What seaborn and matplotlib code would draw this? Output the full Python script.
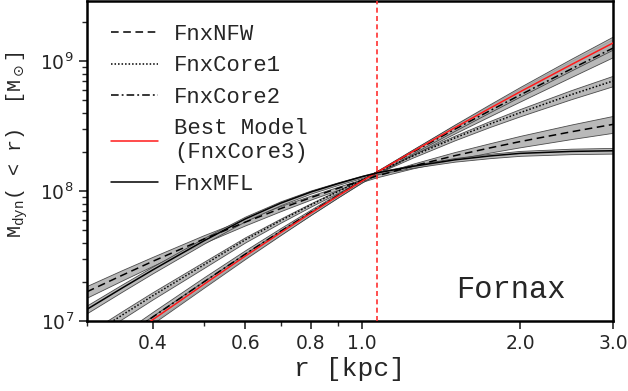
import numpy as np
import pandas as pd
import matplotlib
matplotlib.use("Agg")
import matplotlib.pyplot as plt
from matplotlib.ticker import FixedLocator, FixedFormatter, NullFormatter, LogLocator
import seaborn as sns

# Enclosed dynamical mass profiles of Fornax for each model (log10 M / Msun)
r_kpc = [0.30, 0.35, 0.40, 0.50, 0.60, 0.70, 0.80, 0.90, 1.00, 1.07, 1.25, 1.50, 1.75, 2.00, 2.50, 3.00]

logm_nfw   = [7.225, 7.352, 7.459, 7.630, 7.761, 7.865, 7.950, 8.021, 8.081, 8.117, 8.193, 8.272, 8.332, 8.381, 8.456, 8.513]
logm_core1 = [6.872, 7.046, 7.194, 7.431, 7.625, 7.772, 7.894, 7.996, 8.085, 8.146, 8.270, 8.408, 8.516, 8.604, 8.742, 8.847]
logm_core2 = [6.670, 6.865, 7.030, 7.300, 7.515, 7.690, 7.838, 7.966, 8.078, 8.146, 8.300, 8.475, 8.618, 8.740, 8.940, 9.100]
logm_core3 = [6.648, 6.845, 7.010, 7.281, 7.500, 7.679, 7.831, 7.962, 8.077, 8.146, 8.305, 8.487, 8.637, 8.765, 8.973, 9.139]
logm_mfl   = [7.090, 7.254, 7.393, 7.616, 7.786, 7.906, 7.993, 8.057, 8.110, 8.140, 8.190, 8.240, 8.270, 8.290, 8.305, 8.310]

# 1-sigma half widths of the uncertainty bands (dex)
err_nfw   = [0.045, 0.040, 0.035, 0.030, 0.025, 0.020, 0.015, 0.012, 0.010, 0.010, 0.018, 0.028, 0.036, 0.044, 0.056, 0.065]
err_core1 = [0.032, 0.030, 0.028, 0.024, 0.020, 0.016, 0.013, 0.010, 0.008, 0.008, 0.012, 0.018, 0.023, 0.028, 0.035, 0.040]
err_core2 = [0.045, 0.042, 0.040, 0.035, 0.030, 0.025, 0.020, 0.015, 0.012, 0.012, 0.020, 0.032, 0.042, 0.050, 0.062, 0.070]
err_core3 = [0.035, 0.033, 0.030, 0.026, 0.022, 0.018, 0.014, 0.011, 0.009, 0.009, 0.015, 0.024, 0.031, 0.037, 0.045, 0.050]
err_mfl   = [0.030, 0.028, 0.026, 0.022, 0.018, 0.015, 0.012, 0.010, 0.009, 0.009, 0.011, 0.014, 0.017, 0.019, 0.021, 0.022]

model_names = ["FnxNFW", "FnxCore1", "FnxCore2", "Best Model\n(FnxCore3)", "FnxMFL"]
r_half = 1.07          # half-light radius marker [kpc]
x_ticks = [0.4, 0.6, 0.8, 1.0, 2.0, 3.0]
x_ticklabels = ["0.4", "0.6", "0.8", "1.0", "2.0", "3.0"]

sns.set_style("ticks")
plt.rcParams["font.family"] = ["DejaVu Sans"]
MONO = "Liberation Mono"

models = [
    (model_names[0], logm_nfw, err_nfw, "black", (5, 3)),
    (model_names[1], logm_core1, err_core1, "black", (1, 1.3)),
    (model_names[2], logm_core2, err_core2, "black", (5, 2, 1.2, 2)),
    (model_names[3], logm_core3, err_core3, "#ff1a1a", ""),
    (model_names[4], logm_mfl, err_mfl, "black", ""),
]

rows = []
for name, lm, err, _, _ in models:
    for r, m, e in zip(r_kpc, lm, err):
        rows.append({"r": r, "M": 10 ** m, "lo": 10 ** (m - e), "hi": 10 ** (m + e), "model": name})
df = pd.DataFrame(rows)

fig = plt.figure(figsize=(6.28, 3.91), dpi=100)
ax = fig.add_axes([87 / 628, 70 / 391, 526 / 628, 320 / 391])

# uncertainty bands
for name, _, _, _, _ in models:
    d = df[df.model == name]
    ax.fill_between(d.r, d.lo, d.hi, facecolor="0.68", edgecolor="0.2",
                    linewidth=0.6, alpha=0.85, zorder=1)

# median profiles
palette = {name: c for name, _, _, c, _ in models}
dashes = {name: ds for name, _, _, _, ds in models}
sns.lineplot(data=df, x="r", y="M", hue="model", style="model",
             hue_order=model_names, style_order=model_names,
             palette=palette, dashes=dashes, estimator=None, sort=True,
             linewidth=1.1, ax=ax, zorder=3, legend=True)

ax.axvline(r_half, color="#ff3030", linestyle=(0, (3, 2)), linewidth=1.2, zorder=4)

ax.set_xscale("log")
ax.set_yscale("log")
ax.set_xlim(0.3, 3.0)
ax.set_ylim(1e7, 2.9e9)

ax.xaxis.set_major_locator(FixedLocator(x_ticks))
ax.xaxis.set_major_formatter(FixedFormatter(x_ticklabels))
ax.xaxis.set_minor_locator(FixedLocator([0.3, 0.5, 0.7, 0.9]))
ax.xaxis.set_minor_formatter(NullFormatter())
ax.yaxis.set_major_locator(LogLocator(base=10, numticks=10))
ax.yaxis.set_minor_locator(LogLocator(base=10, subs=np.arange(2, 10), numticks=20))
ax.yaxis.set_minor_formatter(NullFormatter())

ax.tick_params(which="major", direction="out", length=6, width=1.2, labelsize=13.5)
ax.tick_params(which="minor", direction="out", length=3.5, width=1.0)
for s in ax.spines.values():
    s.set_linewidth(1.8)
    s.set_color("black")

ax.set_xlabel("r [kpc]", fontfamily=MONO, fontsize=19, labelpad=3)
ax.set_ylabel(r"M$_\mathregular{dyn}$( < r)  [M$_\odot$]", fontfamily=MONO, fontsize=14.5)
ax.yaxis.set_label_coords(-0.108, 0.55)

ax.text(0.909, 0.097, "Fornax", transform=ax.transAxes, fontfamily=MONO,
        fontsize=22, ha="right", va="center")

handles, labels = ax.get_legend_handles_labels()
leg = ax.legend(handles, labels, loc="upper left", bbox_to_anchor=(0.02, 0.97),
                frameon=False, prop={"family": MONO, "size": 16},
                handlelength=2.1, handletextpad=0.75, labelspacing=0.47,
                borderaxespad=0.2)
for h in leg.get_lines():
    h.set_linewidth(1.1)

fig.savefig("out.png", dpi=100)
